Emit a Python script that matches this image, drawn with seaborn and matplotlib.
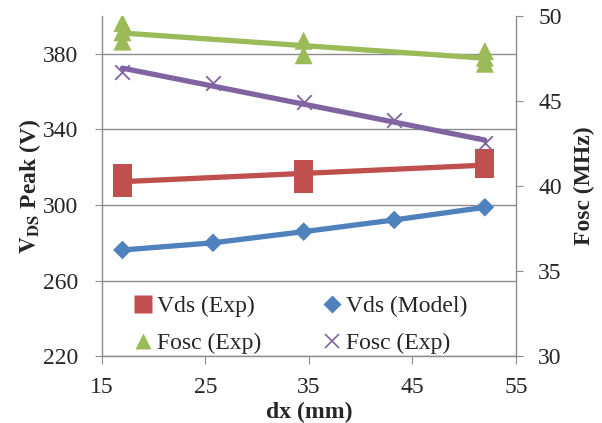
import matplotlib
matplotlib.use('Agg')
import matplotlib.pyplot as plt
import seaborn as sns
import numpy as np
from matplotlib.lines import Line2D

# ---- data ----
vds_exp_x = [17, 17, 34.5, 34.5, 52, 52]
vds_exp_y = [316.9, 309.3, 319.0, 311.5, 324.5, 319.2]
vds_model_x = [17, 25.75, 34.5, 43.25, 52]
vds_model_y = [276.2, 280.0, 285.9, 292.1, 298.8]
fosc_exp_x = [17, 17, 17, 34.5, 34.5, 52, 52, 52]
fosc_exp_y = [49.6, 49.05, 48.5, 48.55, 47.7, 47.95, 47.55, 47.2]
fosc_exp2_x = [17, 25.75, 34.5, 43.25, 52]
fosc_exp2_y = [46.72, 46.04, 44.96, 43.88, 42.51]

x_ticks = [15, 25, 35, 45, 55]
left_ticks = [220, 260, 300, 340, 380]
right_ticks = [30, 35, 40, 45, 50]

RED = '#C0504D'
BLUE = '#4F81BD'
GREEN = '#9BBB59'
PURPLE = '#8064A2'
GRAY = '#8c8c8c'
FS = 17

sns.set_style('white')
plt.rcParams['font.family'] = ['Liberation Serif', 'DejaVu Serif']
plt.rcParams['mathtext.fontset'] = 'stix'

fig = plt.figure(figsize=(6.02, 4.23), dpi=100)
ax = fig.add_axes([0.169, 0.158, 0.688, 0.804])
ax2 = ax.twinx()


def trend(xs, ys):
    c = np.polyfit(xs, ys, 1)
    xx = np.array([min(xs), max(xs)])
    return xx, np.polyval(c, xx)


# left axis series
tx, ty = trend(vds_exp_x, vds_exp_y)
sns.lineplot(x=tx, y=ty, ax=ax, color=RED, lw=3.8, zorder=2)
sns.scatterplot(x=vds_exp_x, y=vds_exp_y, ax=ax, marker='s', s=190, color=RED,
                edgecolor='none', zorder=3)
sns.lineplot(x=vds_model_x, y=vds_model_y, ax=ax, color=BLUE, lw=3.8, zorder=2)
sns.scatterplot(x=vds_model_x, y=vds_model_y, ax=ax, marker='D', s=90, color=BLUE,
                edgecolor='none', zorder=3)

# right axis series
tx, ty = trend(fosc_exp_x, fosc_exp_y)
sns.lineplot(x=tx, y=ty, ax=ax2, color=GREEN, lw=3.8, zorder=2)
sns.scatterplot(x=fosc_exp_x, y=fosc_exp_y, ax=ax2, marker='^', s=170, color=GREEN,
                edgecolor='none', zorder=3)
tx, ty = trend(fosc_exp2_x, fosc_exp2_y)
sns.lineplot(x=tx, y=ty, ax=ax2, color=PURPLE, lw=3.8, zorder=2)
sns.scatterplot(x=fosc_exp2_x, y=fosc_exp2_y, ax=ax2, marker='x', s=110, color=PURPLE,
                linewidth=1.3, zorder=3)

# axes formatting
ax.set_xlim(15, 55)
ax.set_ylim(220, 400)
ax.set_xticks(x_ticks)
ax.set_yticks(left_ticks)
ax2.set_ylim(30, 50)
ax2.set_yticks(right_ticks)

ax.yaxis.grid(True, color=GRAY, lw=1)
ax.xaxis.grid(False)
ax.set_axisbelow(True)

for a in (ax, ax2):
    for s in a.spines.values():
        s.set_color(GRAY)
        s.set_linewidth(1)
    a.spines['top'].set_visible(False)
ax.spines['right'].set_visible(False)
ax2.spines['left'].set_visible(False)
ax2.spines['bottom'].set_visible(False)
ax2.spines['right'].set_visible(True)

ax.tick_params(axis='y', direction='out', length=5, color=GRAY, labelsize=FS,
               left=True, pad=12)
ax.tick_params(axis='x', direction='out', length=6, color=GRAY, labelsize=FS,
               bottom=True, pad=9)
ax2.tick_params(axis='y', direction='out', length=5, color=GRAY, labelsize=FS,
                right=True, pad=11)

ax.set_xlabel('dx (mm)', fontsize=FS, fontweight='bold', labelpad=3)
ax.set_ylabel(r'$\mathbf{V}_{\mathbf{DS}}$ Peak (V)', fontsize=FS, fontweight='bold',
              labelpad=0)
ax2.set_ylabel('Fosc (MHz)', fontsize=FS, fontweight='bold', labelpad=9)

handles = [
    Line2D([], [], ls='none', marker='s', ms=13, color=RED, mec='none'),
    Line2D([], [], ls='none', marker='^', ms=12, color=GREEN, mec='none'),
    Line2D([], [], ls='none', marker='D', ms=9, color=BLUE, mec='none'),
    Line2D([], [], ls='none', marker='x', ms=10, color=PURPLE, mew=1.2),
]
labels = ['Vds (Exp)', 'Fosc (Exp)', 'Vds (Model)', 'Fosc (Exp)']
ax2.legend(handles, labels, ncol=2, loc='lower left', bbox_to_anchor=(0.07, 0.0),
           frameon=False, fontsize=FS, handlelength=0.8, handletextpad=0.2,
           columnspacing=2.6, labelspacing=0.65, borderpad=0.1, borderaxespad=0)

fig.savefig('out.png', dpi=100)
